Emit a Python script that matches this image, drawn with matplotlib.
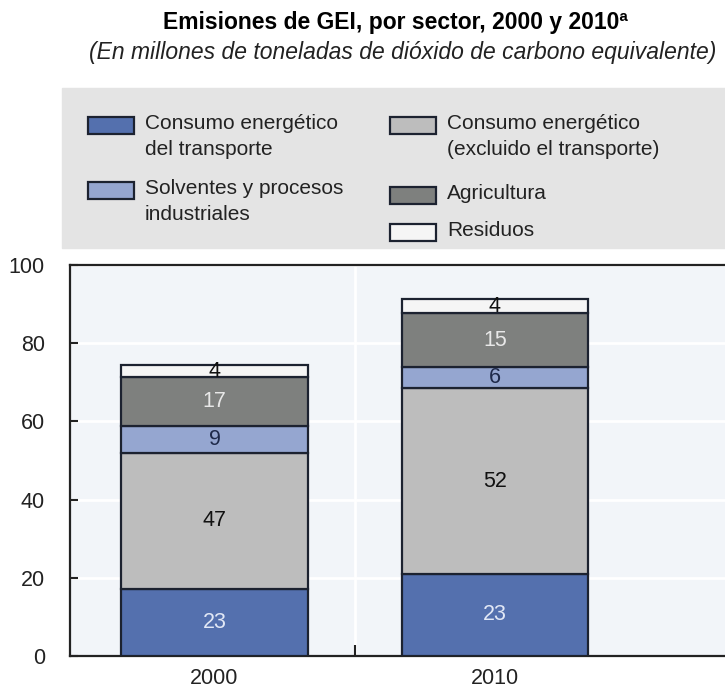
import matplotlib
matplotlib.use("Agg")
import matplotlib.pyplot as plt
from matplotlib.patches import Rectangle

plt.rcParams["font.family"] = ["Liberation Sans Narrow", "Liberation Sans", "DejaVu Sans"]

years = ["2000", "2010"]
sectors = [
    "Consumo energético\ndel transporte",
    "Consumo energético\n(excluido el transporte)",
    "Solventes y procesos\nindustriales",
    "Agricultura",
    "Residuos",
]
# total emissions, millions of tonnes CO2-eq
totals = [74.3, 91.3]
# share of each sector in the total, %
transport = [23, 23]
energy_other = [47, 52]
solvents = [9, 6]
agriculture = [17, 15]
waste = [4, 4]

shares = [transport, energy_other, solvents, agriculture, waste]
colors = ["#5470ae", "#bdbdbd", "#95a6d0", "#7e807e", "#f5f5f5"]
label_colors = ["#e2e8f6", "#111111", "#1f2a4a", "#e8e8e8", "#111111"]
edge = "#1c2230"

W, H = 725, 689
fig = plt.figure(figsize=(W / 100, H / 100), dpi=100)
ax = fig.add_axes([70 / W, 1 - 656 / H, 1 - 70 / W, (656 - 265) / H])
ax.set_facecolor("#f2f5f9")

x = [0, 1]
bottoms = [0.0, 0.0]
for share, color, tcolor in zip(shares, colors, label_colors):
    heights = [t * s / 100 for t, s in zip(totals, share)]
    ax.bar(x, heights, 0.665, bottom=bottoms, color=color, edgecolor=edge,
           linewidth=1.6, zorder=3)
    for xi, b, h, s in zip(x, bottoms, heights, share):
        ax.text(xi, b + h / 2, str(s), ha="center", va="center",
                fontsize=15.5, color=tcolor, zorder=4)
    bottoms = [b + h for b, h in zip(bottoms, heights)]

ax.set_ylim(0, 100)
ax.set_xlim(-0.515, 1.82)
ax.set_yticks([0, 20, 40, 60, 80, 100])
ax.set_xticks(x)
ax.set_xticklabels(years)
ax.set_xticks([0.5], minor=True)
ax.tick_params(axis="y", direction="in", length=6, width=1.5, color="#222222",
               labelsize=15.5, pad=18, labelcolor="#222222")
ax.tick_params(axis="x", which="major", length=0, labelsize=15.5, pad=9,
               labelcolor="#222222")
ax.tick_params(axis="x", which="minor", direction="in", length=8, width=1.5,
               color="#222222")
ax.grid(axis="y", color="white", linewidth=2, zorder=1)
ax.axvline(0.5, color="white", linewidth=2, zorder=1)
for side in ["left", "bottom", "top"]:
    ax.spines[side].set_linewidth(1.6)
    ax.spines[side].set_color("#222222")
ax.spines["right"].set_visible(False)

fig.text(395 / W, 1 - 22 / H, "Emisiones de GEI, por sector, 2000 y 2010ª",
         ha="center", va="center", fontsize=16.5, fontweight="bold")
fig.text(403 / W, 1 - 53 / H,
         "(En millones de toneladas de dióxido de carbono equivalente)",
         ha="center", va="center", fontsize=16.5, style="italic",
         color="#222222")

# legend panel
fig.add_artist(Rectangle((62 / W, 1 - 248 / H), 1 - 62 / W, (248 - 88) / H,
                         transform=fig.transFigure, color="#e4e4e4", zorder=0))
legend_pos = [(88, 126), (390, 126), (88, 191), (390, 196), (390, 233)]
for (hx, cy), name, color in zip(legend_pos, sectors, colors):
    fig.add_artist(Rectangle((hx / W, 1 - (cy + 8) / H), 46 / W, 17 / H,
                             transform=fig.transFigure, facecolor=color,
                             edgecolor=edge, linewidth=1.6))
    fig.text((hx + 57) / W, 1 - (cy - 12) / H, name, ha="left", va="top",
             fontsize=15, linespacing=1.45, color="#222222")

fig.savefig("out.png", dpi=100)
